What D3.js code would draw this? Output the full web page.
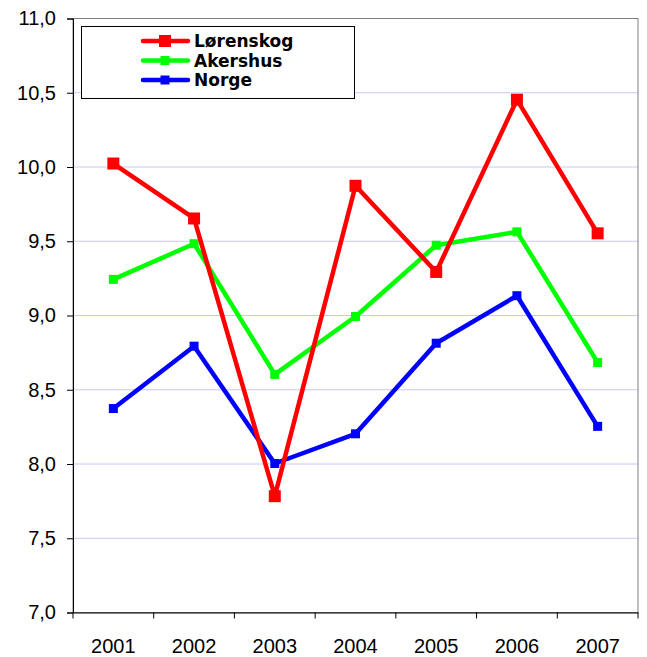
<!DOCTYPE html>
<html>
<head>
<meta charset="utf-8">
<script src="https://cdn.jsdelivr.net/npm/d3@7"></script>
<style>
  body { margin: 0; background: #fff; }
  text { font-family: "Liberation Sans", Arial, sans-serif; }
</style>
</head>
<body>
<div id="chart"></div>
<script>
const years = ["2001", "2002", "2003", "2004", "2005", "2006", "2007"];
const lorenskog = [10.02, 9.65, 7.78, 9.87, 9.29, 10.45, 9.55];
const akershus = [9.24, 9.48, 8.60, 8.99, 9.47, 9.56, 8.68];
const norge = [8.37, 8.79, 8.00, 8.20, 8.81, 9.13, 8.25];
const yTicks = [7.0, 7.5, 8.0, 8.5, 9.0, 9.5, 10.0, 10.5, 11.0];

const series = [
  { name: "Lørenskog", values: lorenskog, color: "#ff0000", marker: 12 },
  { name: "Akershus", values: akershus, color: "#00ff00", marker: 9 },
  { name: "Norge", values: norge, color: "#0000ff", marker: 9 }
];

const width = 647, height = 657;
const plotLeft = 73, plotRight = 638, plotTop = 18, plotBottom = 612;

const svg = d3.select("#chart").append("svg")
  .attr("width", width)
  .attr("height", height);

const xScale = d3.scaleBand().domain(years).range([plotLeft, plotRight]);
const yScale = d3.scaleLinear().domain([7, 11]).range([plotBottom, plotTop]);

// gridlines
svg.append("g")
  .selectAll("line")
  .data(yTicks.filter(d => d > 7 && d < 11))
  .join("line")
  .attr("x1", plotLeft).attr("x2", plotRight)
  .attr("y1", d => yScale(d) + 0.5).attr("y2", d => yScale(d) + 0.5)
  .attr("stroke", "#c8c8f8")
  .attr("stroke-width", 1);

// plot frame
svg.append("rect")
  .attr("x", plotLeft).attr("y", plotTop + 0.5)
  .attr("width", plotRight - plotLeft).attr("height", plotBottom - plotTop)
  .attr("fill", "none")
  .attr("stroke", "#808080")
  .attr("stroke-width", 1);

// y axis
const yAxis = d3.axisLeft(yScale)
  .tickValues(yTicks)
  .tickSize(6)
  .tickPadding(11)
  .tickFormat(d => d3.format(".1f")(d).replace(".", ","));
const yg = svg.append("g")
  .attr("transform", `translate(${plotLeft},0.5)`)
  .call(yAxis);
yg.selectAll("text").style("font-size", "20px").attr("fill", "#000");
yg.selectAll("line, path").attr("stroke", "#000");

// x axis
const xAxis = d3.axisBottom(xScale).tickSize(0).tickPadding(26);
const xg = svg.append("g")
  .attr("transform", `translate(0,${plotBottom + 0.5})`)
  .call(xAxis);
xg.selectAll("text").style("font-size", "20px").attr("fill", "#000");
xg.select("path").attr("stroke", "#000");
// category boundary ticks
xg.selectAll(".sep")
  .data(years.concat(["end"]))
  .join("line")
  .attr("class", "sep")
  .attr("x1", (d, i) => plotLeft + i * xScale.step())
  .attr("x2", (d, i) => plotLeft + i * xScale.step())
  .attr("y1", 0).attr("y2", 6)
  .attr("stroke", "#000");

const line = d3.line()
  .x((d, i) => xScale(years[i]) + xScale.bandwidth() / 2)
  .y(d => yScale(d));

series.slice().reverse().forEach(s => {
  const g = svg.append("g");
  g.append("path")
    .attr("d", line(s.values))
    .attr("fill", "none")
    .attr("stroke", s.color)
    .attr("stroke-width", 4.5)
    .attr("stroke-linejoin", "round");
  g.selectAll("rect")
    .data(s.values)
    .join("rect")
    .attr("x", (d, i) => xScale(years[i]) + xScale.bandwidth() / 2 - s.marker / 2)
    .attr("y", d => yScale(d) - s.marker / 2)
    .attr("width", s.marker)
    .attr("height", s.marker)
    .attr("fill", s.color);
});

// legend
const legend = svg.append("g");
legend.append("rect")
  .attr("x", 81.5).attr("y", 26.5)
  .attr("width", 273).attr("height", 72)
  .attr("fill", "#fff")
  .attr("stroke", "#000")
  .attr("stroke-width", 1);
series.forEach((s, i) => {
  const y = 41 + i * 19.5;
  legend.append("line")
    .attr("x1", 143).attr("x2", 188)
    .attr("y1", y).attr("y2", y)
    .attr("stroke", s.color)
    .attr("stroke-width", 4.5)
    .attr("stroke-linecap", "round");
  legend.append("rect")
    .attr("x", 165 - s.marker / 2).attr("y", y - s.marker / 2)
    .attr("width", s.marker).attr("height", s.marker)
    .attr("fill", s.color);
  legend.append("text")
    .attr("x", 194).attr("y", y + 6)
    .style("font-family", "'DejaVu Sans', sans-serif")
    .style("font-size", "17px")
    .style("font-weight", "bold")
    .text(s.name);
});
</script>
</body>
</html>
